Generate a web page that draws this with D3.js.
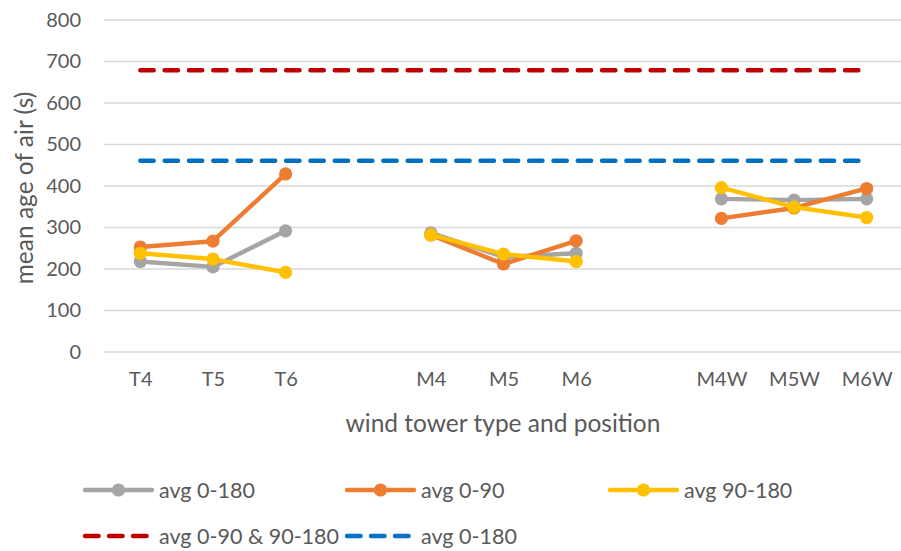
<!DOCTYPE html>
<html>
<head>
<meta charset="utf-8">
<script src="https://cdn.jsdelivr.net/npm/d3@7"></script>
<style>
  html, body { margin: 0; padding: 0; background: #fff; }
  svg { display: block; font-family: Lato, "Open Sans", sans-serif; }
</style>
</head>
<body>
<svg id="chart" width="901" height="551"></svg>
<script>
// Category slots along the x axis; empty strings are spacer slots between groups.
const categories = ["T4", "T5", "T6", "", "M4", "M5", "M6", "", "M4W", "M5W", "M6W"];

// Mean age of air (s) per wind tower configuration; null marks a spacer slot.
const avg0to180  = [218, 205, 292, null, 287, 229, 238, null, 369, 366, 369];
const avg0to90   = [253, 267, 429, null, 282, 212, 268, null, 322, 347, 394];
const avg90to180 = [238, 224, 192, null, 282, 236, 218, null, 396, 349, 324];

// Reference levels drawn across the full category range.
const refAvg0to90and90to180 = 679;
const refAvg0to180 = 461;

const yTicks = [0, 100, 200, 300, 400, 500, 600, 700, 800];

const seriesList = [
  { name: "avg 0-180",  values: avg0to180,  color: "#A5A5A5" },
  { name: "avg 0-90",   values: avg0to90,   color: "#ED7D31" },
  { name: "avg 90-180", values: avg90to180, color: "#FFC000" }
];
const refList = [
  { name: "avg 0-90 & 90-180", value: refAvg0to90and90to180, color: "#C00000" },
  { name: "avg 0-180",         value: refAvg0to180,          color: "#0070C0" }
];

const svg = d3.select("#chart");
const textColor = "#595959";

const x = d3.scalePoint()
  .domain(d3.range(categories.length))
  .range([104, 903])
  .padding(0.5);

const y = d3.scaleLinear().domain([0, 800]).range([352, 20]);

// Horizontal gridlines
svg.append("g")
  .selectAll("line")
  .data(yTicks)
  .join("line")
  .attr("x1", 104).attr("x2", 901)
  .attr("y1", d => y(d)).attr("y2", d => y(d))
  .attr("stroke", "#D9D9D9").attr("stroke-width", 1.3);

// Y axis tick labels
const yAxis = d3.axisLeft(y).tickValues(yTicks).tickSize(0).tickPadding(0);
const yg = svg.append("g").attr("transform", "translate(81,0)").call(yAxis);
yg.select(".domain").remove();
yg.selectAll("text")
  .attr("fill", textColor).attr("font-size", 20)
  .attr("font-family", "Lato, 'Open Sans', sans-serif");

// X axis category labels
const xAxis = d3.axisBottom(x).tickSize(0).tickPadding(0).tickFormat(i => categories[i]);
const xg = svg.append("g").attr("transform", "translate(0,372)").call(xAxis);
xg.select(".domain").remove();
xg.selectAll("text")
  .attr("fill", textColor).attr("font-size", 20)
  .attr("font-family", "Lato, 'Open Sans', sans-serif");

// Axis titles
svg.append("text")
  .attr("transform", "translate(33,188) rotate(-90)")
  .attr("text-anchor", "middle")
  .attr("fill", textColor).attr("font-size", 24.5)
  .text("mean age of air (s)");

svg.append("text")
  .attr("x", 503).attr("y", 432)
  .attr("text-anchor", "middle")
  .attr("fill", textColor).attr("font-size", 24.5)
  .text("wind tower type and position");

// Dashed reference lines spanning first to last category
const firstIdx = 0, lastIdx = categories.length - 1;
svg.append("g")
  .selectAll("line")
  .data(refList)
  .join("line")
  .attr("x1", x(firstIdx)).attr("x2", x(lastIdx))
  .attr("y1", d => y(d.value)).attr("y2", d => y(d.value))
  .attr("stroke", d => d.color)
  .attr("stroke-width", 4.4)
  .attr("stroke-linecap", "round")
  .attr("stroke-dasharray", "13.4 10.9");

// Data series: line then markers
const line = d3.line()
  .defined(d => d.v !== null)
  .x(d => x(d.i))
  .y(d => y(d.v));

seriesList.forEach(s => {
  const pts = s.values.map((v, i) => ({ i, v }));
  const g = svg.append("g");
  g.append("path")
    .datum(pts)
    .attr("d", line)
    .attr("fill", "none")
    .attr("stroke", s.color)
    .attr("stroke-width", 4.4)
    .attr("stroke-linejoin", "round")
    .attr("stroke-linecap", "round");
  g.selectAll("circle")
    .data(pts.filter(d => d.v !== null))
    .join("circle")
    .attr("cx", d => x(d.i))
    .attr("cy", d => y(d.v))
    .attr("r", 6.6)
    .attr("fill", s.color);
});

// Legend
const legend = svg.append("g");
const legendSeriesPos = [
  { x0: 83, y: 490 },
  { x0: 345, y: 490 },
  { x0: 608, y: 490 }
];
seriesList.forEach((s, k) => {
  const p = legendSeriesPos[k];
  legend.append("line")
    .attr("x1", p.x0 + 2).attr("x2", p.x0 + 69)
    .attr("y1", p.y).attr("y2", p.y)
    .attr("stroke", s.color).attr("stroke-width", 4.4)
    .attr("stroke-linecap", "round");
  legend.append("circle")
    .attr("cx", p.x0 + 35.5).attr("cy", p.y).attr("r", 6.6)
    .attr("fill", s.color);
  legend.append("text")
    .attr("x", p.x0 + 76).attr("y", p.y).attr("dy", "0.35em")
    .attr("fill", textColor).attr("font-size", 21.5)
    .text(s.name);
});
const legendRefPos = [
  { x0: 83, y: 536 },
  { x0: 345, y: 536 }
];
refList.forEach((r, k) => {
  const p = legendRefPos[k];
  legend.append("line")
    .attr("x1", p.x0 + 2).attr("x2", p.x0 + 66)
    .attr("y1", p.y).attr("y2", p.y)
    .attr("stroke", r.color).attr("stroke-width", 4.4)
    .attr("stroke-linecap", "round")
    .attr("stroke-dasharray", "13.6 10.4");
  legend.append("text")
    .attr("x", p.x0 + 76).attr("y", p.y).attr("dy", "0.35em")
    .attr("fill", textColor).attr("font-size", 21.5)
    .text(r.name);
});
</script>
</body>
</html>
